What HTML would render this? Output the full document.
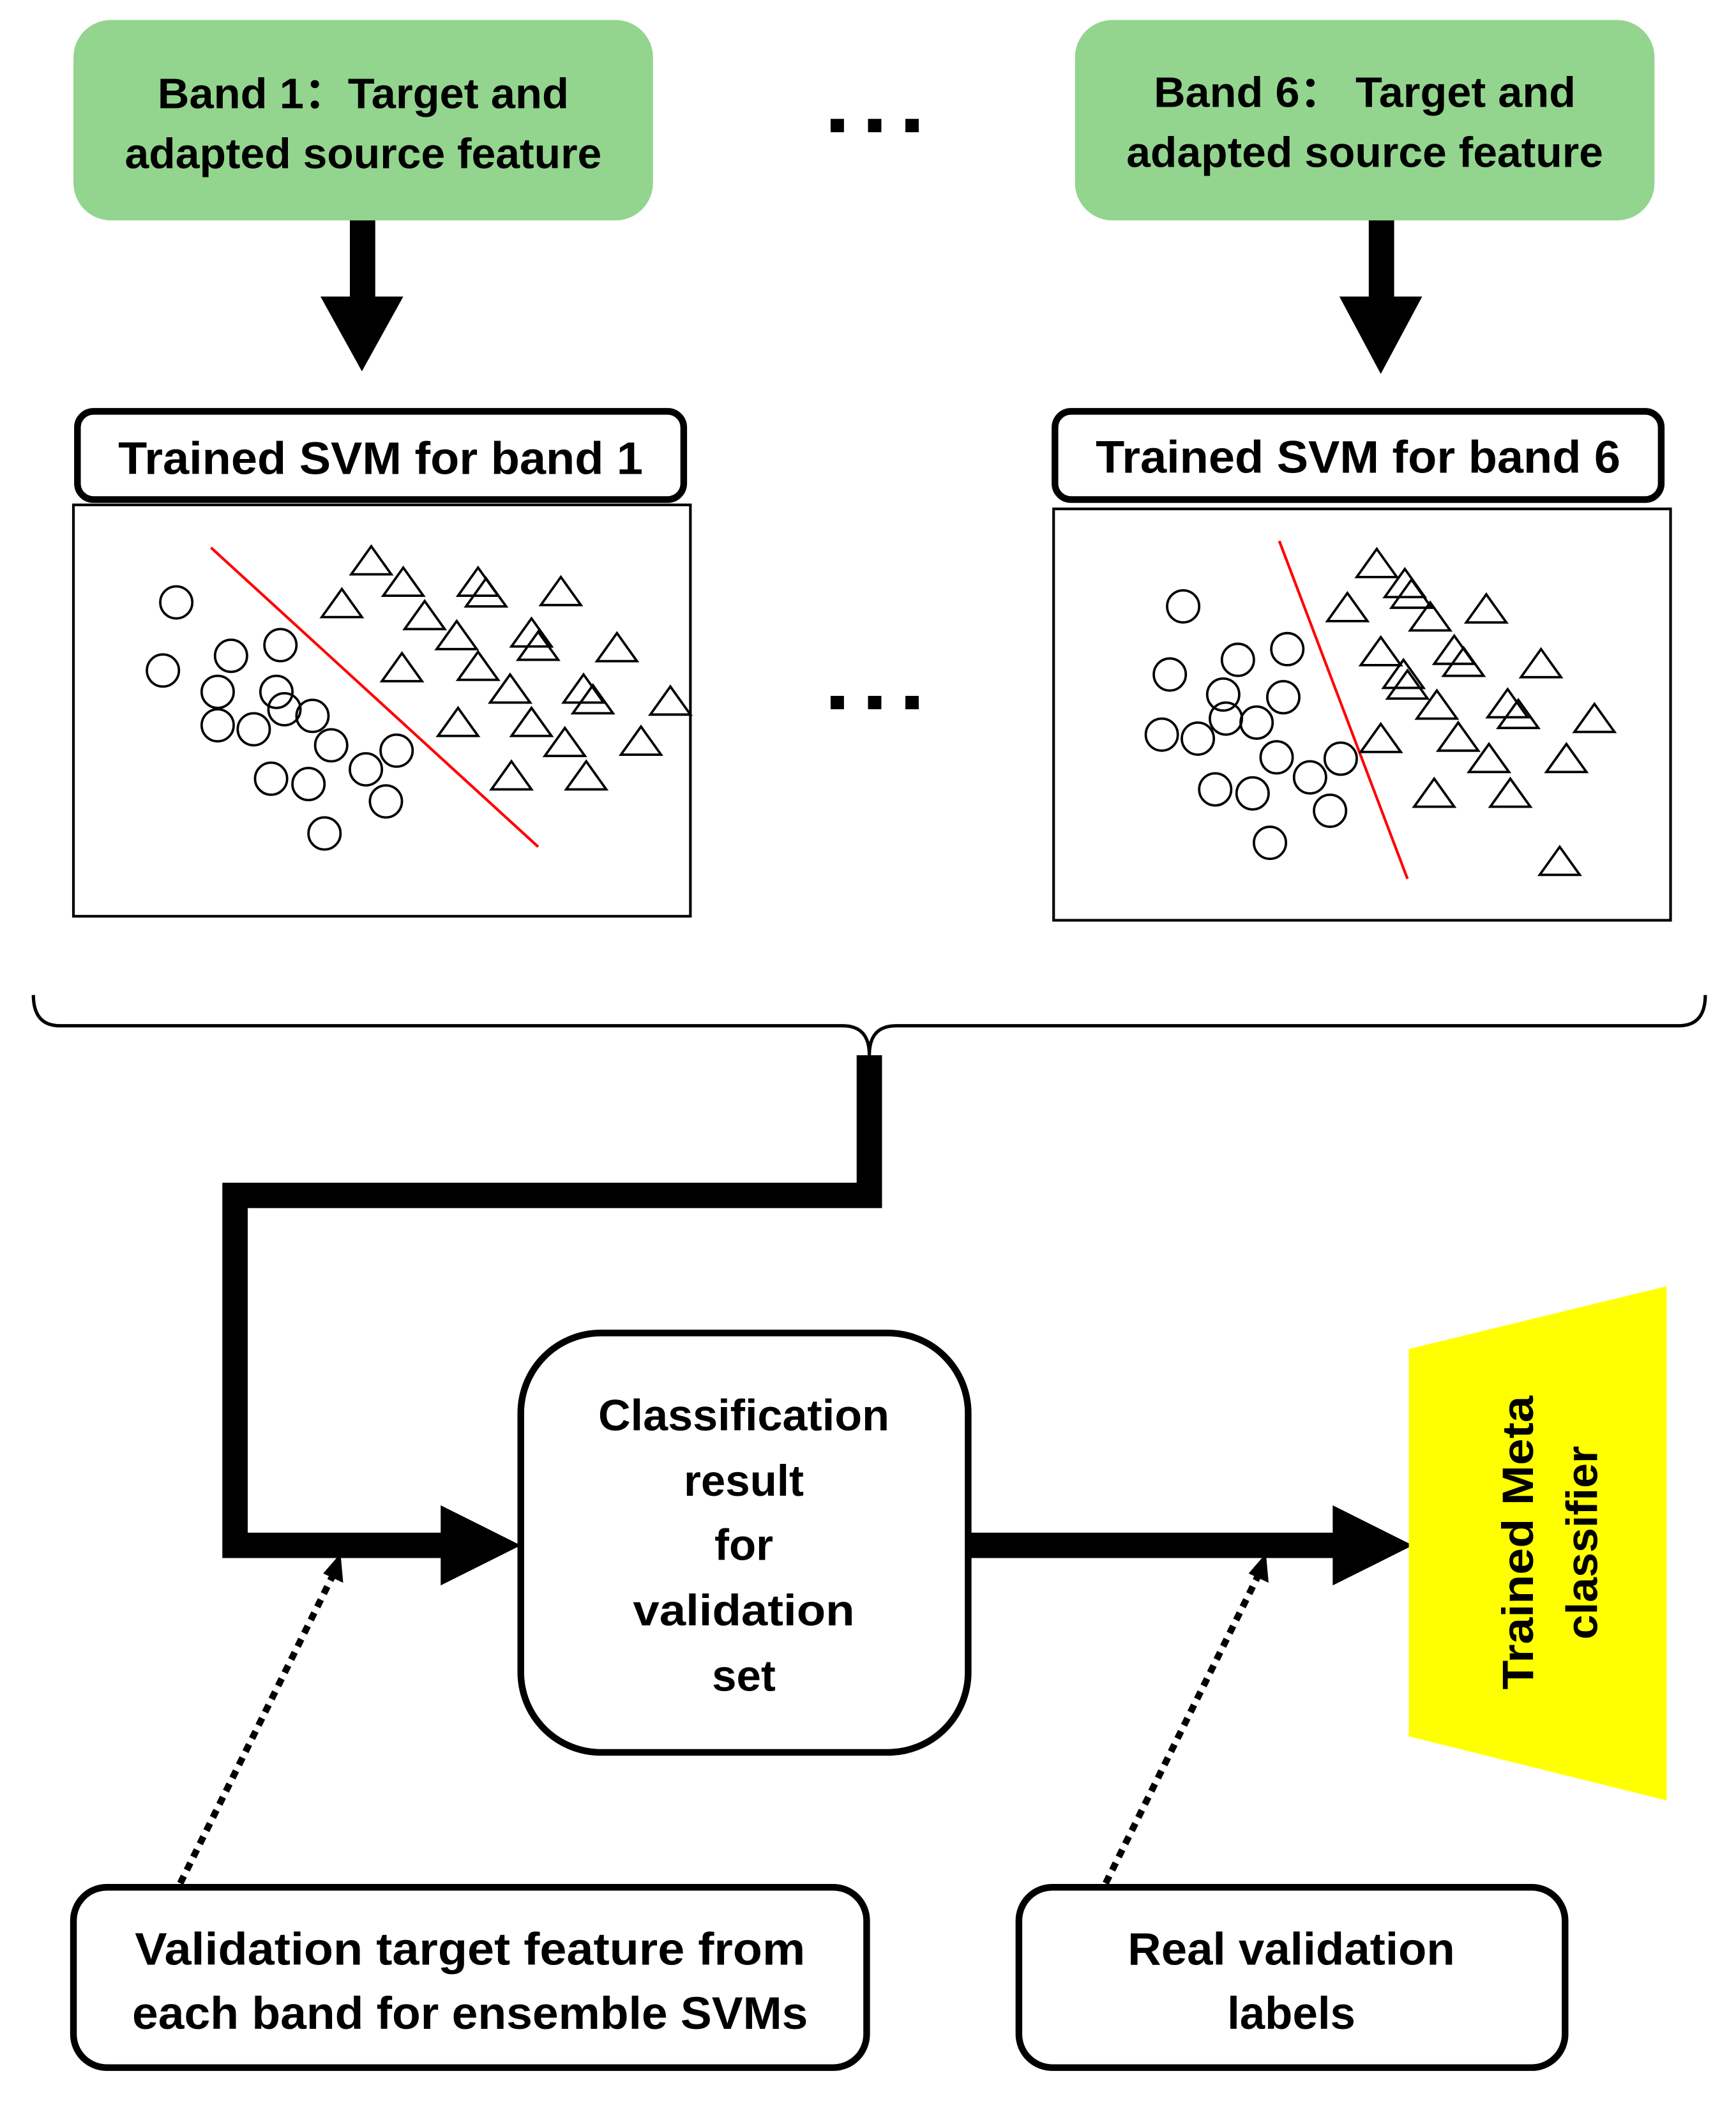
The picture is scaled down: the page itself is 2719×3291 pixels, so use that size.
<!DOCTYPE html>
<html><head><meta charset="utf-8">
<style>html,body{margin:0;padding:0;background:#fff;}svg{display:block;}
text{font-family:"Liberation Sans","Noto Sans CJK SC",sans-serif;font-weight:bold;fill:#000;}</style>
</head><body>
<svg width="2719" height="3291" viewBox="0 0 1300 1573" preserveAspectRatio="none" xmlns="http://www.w3.org/2000/svg">
<defs>
<symbol id="c" overflow="visible"><circle r="12" fill="none" stroke="#000" stroke-width="1.8"/></symbol>
<symbol id="t" overflow="visible"><polygon points="0,-11 15,10 -15,10" fill="none" stroke="#000" stroke-width="1.8"/></symbol>
</defs>
<rect x="55" y="15" width="434" height="150" rx="28" fill="#93d58e"/>
<rect x="805" y="15" width="434" height="150" rx="28" fill="#93d58e"/>
<g font-size="32" text-anchor="middle">
<text x="272" y="81" textLength="308" lengthAdjust="spacingAndGlyphs">Band 1：Target and</text>
<text x="272" y="126" textLength="357" lengthAdjust="spacingAndGlyphs">adapted source feature</text>
<text x="1022" y="80" textLength="316" lengthAdjust="spacingAndGlyphs">Band 6： Target and</text>
<text x="1022" y="125" textLength="357" lengthAdjust="spacingAndGlyphs">adapted source feature</text>
</g>
<g fill="#000">
<rect x="622" y="89" width="10" height="10"/><rect x="650" y="89" width="10" height="10"/><rect x="678" y="89" width="10" height="10"/>
<rect x="622" y="521" width="10" height="10"/><rect x="650" y="521" width="10" height="10"/><rect x="678" y="521" width="10" height="10"/>
<rect x="262" y="165" width="19" height="60"/><polygon points="240,222 302,222 271,278"/>
<rect x="1025" y="165" width="19" height="60"/><polygon points="1003,222 1065,222 1034,280"/>
</g>
<rect x="58" y="308" width="454" height="66" rx="12" fill="none" stroke="#000" stroke-width="5"/>
<rect x="790" y="308" width="454" height="66" rx="12" fill="none" stroke="#000" stroke-width="5"/>
<g font-size="34" text-anchor="middle">
<text x="285" y="355" textLength="393" lengthAdjust="spacingAndGlyphs">Trained SVM for band 1</text>
<text x="1017" y="354" textLength="393" lengthAdjust="spacingAndGlyphs">Trained SVM for band 6</text>
</g>
<rect x="55" y="378" width="462" height="308" fill="none" stroke="#000" stroke-width="2"/>
<rect x="789" y="381" width="462" height="308" fill="none" stroke="#000" stroke-width="2"/>
<line x1="158" y1="410" x2="403" y2="634" stroke="red" stroke-width="2"/>
<line x1="958" y1="405" x2="1054" y2="658" stroke="red" stroke-width="2"/>
<g>
<use href="#c" x="132" y="451"/><use href="#c" x="122" y="502"/><use href="#c" x="173" y="491"/><use href="#c" x="210" y="483"/><use href="#c" x="163" y="518"/><use href="#c" x="207" y="518"/><use href="#c" x="163" y="543"/><use href="#c" x="190" y="546"/><use href="#c" x="213" y="531"/><use href="#c" x="234" y="536"/><use href="#c" x="248" y="558"/><use href="#c" x="203" y="583"/><use href="#c" x="231" y="587"/><use href="#c" x="274" y="576"/><use href="#c" x="297" y="562"/><use href="#c" x="289" y="600"/><use href="#c" x="243" y="624"/>
<use href="#t" x="278" y="420"/><use href="#t" x="302" y="436"/><use href="#t" x="256" y="452"/><use href="#t" x="358" y="436"/><use href="#t" x="364" y="444"/><use href="#t" x="420" y="443"/><use href="#t" x="318" y="461"/><use href="#t" x="342" y="476"/><use href="#t" x="398" y="474"/><use href="#t" x="403" y="484"/><use href="#t" x="462" y="485"/><use href="#t" x="301" y="500"/><use href="#t" x="358" y="499"/><use href="#t" x="382" y="516"/><use href="#t" x="437" y="516"/><use href="#t" x="444" y="524"/><use href="#t" x="502" y="525"/><use href="#t" x="343" y="541"/><use href="#t" x="398" y="541"/><use href="#t" x="423" y="556"/><use href="#t" x="480" y="555"/><use href="#t" x="383" y="581"/><use href="#t" x="439" y="581"/>
<use href="#c" x="886" y="454"/><use href="#c" x="876" y="505"/><use href="#c" x="927" y="494"/><use href="#c" x="964" y="486"/><use href="#c" x="916" y="520"/><use href="#c" x="961" y="522"/><use href="#c" x="918" y="538"/><use href="#c" x="941" y="541"/><use href="#c" x="870" y="550"/><use href="#c" x="897" y="553"/><use href="#c" x="956" y="567"/><use href="#c" x="981" y="582"/><use href="#c" x="1004" y="568"/><use href="#c" x="910" y="591"/><use href="#c" x="938" y="594"/><use href="#c" x="996" y="607"/><use href="#c" x="951" y="631"/>
<use href="#t" x="1031" y="422"/><use href="#t" x="1052" y="437"/><use href="#t" x="1009" y="455"/><use href="#t" x="1057" y="445"/><use href="#t" x="1071" y="462"/><use href="#t" x="1113" y="456"/><use href="#t" x="1034" y="488"/><use href="#t" x="1089" y="487"/><use href="#t" x="1096" y="496"/><use href="#t" x="1154" y="497"/><use href="#t" x="1051" y="505"/><use href="#t" x="1054" y="513"/><use href="#t" x="1076" y="528"/><use href="#t" x="1129" y="527"/><use href="#t" x="1137" y="535"/><use href="#t" x="1194" y="538"/><use href="#t" x="1034" y="553"/><use href="#t" x="1092" y="552"/><use href="#t" x="1115" y="568"/><use href="#t" x="1173" y="568"/><use href="#t" x="1074" y="594"/><use href="#t" x="1131" y="594"/><use href="#t" x="1168" y="645"/>
</g>
<path d="M25,745 Q25,768 45,768 L631,768 Q651,768 651,790 Q651,768 671,768 L1257,768 Q1277,768 1277,745" fill="none" stroke="#000" stroke-width="2.5"/>
<path d="M651,790 L651,895 L176,895 L176,1157 L335,1157" fill="none" stroke="#000" stroke-width="19"/>
<polygon points="330,1127 390,1157 330,1187" fill="#000"/>
<rect x="390" y="998" width="335" height="314" rx="60" fill="none" stroke="#000" stroke-width="5"/>
<g font-size="33" text-anchor="middle">
<text x="557" y="1071" textLength="218" lengthAdjust="spacingAndGlyphs">Classification</text>
<text x="557" y="1120">result</text>
<text x="557" y="1168">for</text>
<text x="557" y="1217" textLength="166" lengthAdjust="spacingAndGlyphs">validation</text>
<text x="557" y="1266">set</text>
</g>
<line x1="725" y1="1157" x2="1005" y2="1157" stroke="#000" stroke-width="19"/>
<polygon points="998,1127 1058,1157 998,1187" fill="#000"/>
<polygon points="1055,1010 1248,963 1248,1348 1055,1300" fill="#ffff00"/>
<g font-size="33" text-anchor="middle">
<text transform="translate(1148,1155) rotate(-90)" textLength="220" lengthAdjust="spacingAndGlyphs">Trained Meta</text>
<text transform="translate(1196,1155) rotate(-90)" textLength="145" lengthAdjust="spacingAndGlyphs">classifier</text>
</g>
<line x1="135" y1="1410" x2="250" y2="1178" stroke="#000" stroke-width="5" stroke-dasharray="6,5"/>
<polygon points="255,1163 257,1185 242,1178" fill="#000"/>
<line x1="828" y1="1410" x2="943" y2="1178" stroke="#000" stroke-width="5" stroke-dasharray="6,5"/>
<polygon points="948,1163 950,1185 935,1178" fill="#000"/>
<rect x="55" y="1413" width="594" height="135" rx="25" fill="none" stroke="#000" stroke-width="5"/>
<rect x="763" y="1413" width="409" height="135" rx="25" fill="none" stroke="#000" stroke-width="5"/>
<g font-size="34" text-anchor="middle">
<text x="352" y="1471" textLength="502" lengthAdjust="spacingAndGlyphs">Validation target feature from</text>
<text x="352" y="1519" textLength="506" lengthAdjust="spacingAndGlyphs">each band for ensemble SVMs</text>
<text x="967" y="1471" textLength="245" lengthAdjust="spacingAndGlyphs">Real validation</text>
<text x="967" y="1519" textLength="96" lengthAdjust="spacingAndGlyphs">labels</text>
</g>
</svg>
</body></html>
